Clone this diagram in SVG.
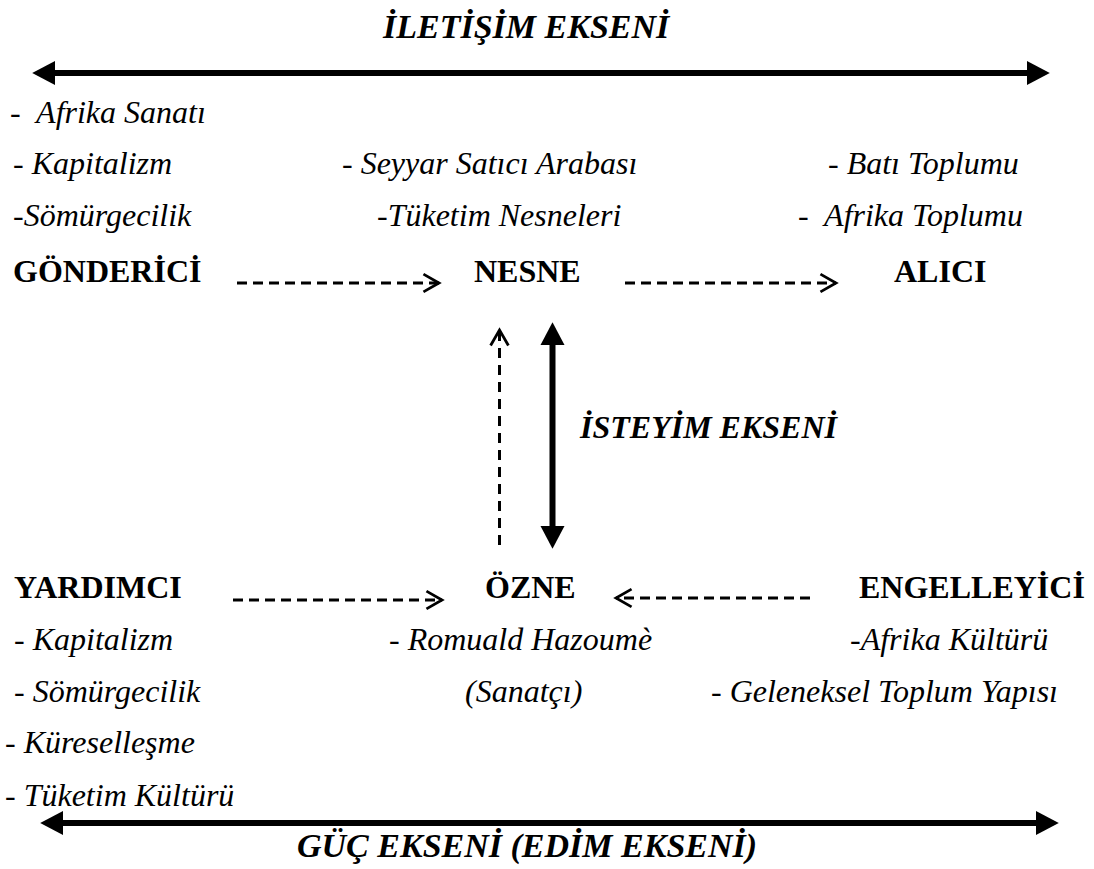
<svg xmlns="http://www.w3.org/2000/svg" width="1094" height="869" viewBox="0 0 1094 869">
<style>
text{font-family:"Liberation Serif","Times New Roman",serif;font-size:32px;fill:#000}
.it{font-style:italic}
.b{font-weight:bold}
.bi{font-weight:bold;font-style:italic}
.big{font-size:34px}
.pre{white-space:pre}
.axis{stroke:#000;stroke-width:6;fill:none}
.dash{stroke:#000;stroke-width:3;fill:none;stroke-dasharray:10 6}
.vdash{stroke:#000;stroke-width:3;fill:none;stroke-dasharray:10 7}
</style>
<defs>
<marker id="solid" markerUnits="userSpaceOnUse" markerWidth="24" markerHeight="24" refX="0" refY="10" viewBox="0 0 20 20" orient="auto-start-reverse" overflow="visible">
<path d="M0,0 L19,10 L0,20 Z" fill="#000"/>
</marker>
<marker id="open" markerUnits="userSpaceOnUse" markerWidth="20" markerHeight="20" refX="14" refY="9" viewBox="0 0 16 18" orient="auto" overflow="visible">
<path d="M0,1 L14,9 L0,17" fill="none" stroke="#000" stroke-width="2.5"/>
</marker>
</defs>

<g id="title-iletisim"><text class="bi big" x="383" y="38">İLETİŞİM EKSENİ</text></g>

<g id="gonderici">
<text class="it pre" x="10" y="123" xml:space="preserve">-  Afrika Sanatı</text>
<text class="it" x="13" y="174">- Kapitalizm</text>
<text class="it" x="13" y="226">-Sömürgecilik</text>
<text class="b" x="13" y="282">GÖNDERİCİ</text>
</g>

<g id="nesne">
<text class="it" x="342" y="174">- Seyyar Satıcı Arabası</text>
<text class="it" x="377" y="226">-Tüketim Nesneleri</text>
<text class="b" x="474" y="282">NESNE</text>
</g>

<g id="alici">
<text class="it" x="828" y="174">- Batı Toplumu</text>
<text class="it pre" x="798" y="226" xml:space="preserve">-  Afrika Toplumu</text>
<text class="b" x="894" y="282">ALICI</text>
</g>

<g id="title-isteyim"><text class="bi" x="580" y="438">İSTEYİM EKSENİ</text></g>

<g id="yardimci">
<text class="b" x="14" y="598">YARDIMCI</text>
<text class="it" x="14" y="650">- Kapitalizm</text>
<text class="it" x="14" y="702">- Sömürgecilik</text>
<text class="it" x="5" y="753">- Küreselleşme</text>
<text class="it" x="5" y="806">- Tüketim Kültürü</text>
</g>

<g id="ozne">
<text class="b" x="485" y="598">ÖZNE</text>
<text class="it" x="389" y="650">- Romuald Hazoumè</text>
<text class="it" x="465" y="702">(Sanatçı)</text>
</g>

<g id="engelleyici">
<text class="b" x="859" y="598">ENGELLEYİCİ</text>
<text class="it" x="850" y="650">-Afrika Kültürü</text>
<text class="it" x="711" y="702">- Geleneksel Toplum Yapısı</text>
</g>

<g id="title-guc"><text class="bi big" x="297" y="857">GÜÇ EKSENİ (EDİM EKSENİ)</text></g>

<g id="connectors">
<line class="axis" x1="55" y1="73" x2="1027" y2="73" marker-start="url(#solid)" marker-end="url(#solid)"/>
<line class="axis" x1="63" y1="823" x2="1036" y2="823" marker-start="url(#solid)" marker-end="url(#solid)"/>
<line class="axis" x1="552.5" y1="345" x2="552.5" y2="526" marker-start="url(#solid)" marker-end="url(#solid)"/>
<line class="dash" x1="237" y1="283" x2="439" y2="283" marker-end="url(#open)"/>
<line class="dash" x1="625" y1="283" x2="836" y2="283" marker-end="url(#open)"/>
<line class="dash" x1="233" y1="600" x2="442" y2="600" marker-end="url(#open)"/>
<line class="dash" x1="810" y1="598" x2="616" y2="598" marker-end="url(#open)"/>
<line class="vdash" x1="499.5" y1="545" x2="499.5" y2="330" marker-end="url(#open)"/>
</g>
</svg>
